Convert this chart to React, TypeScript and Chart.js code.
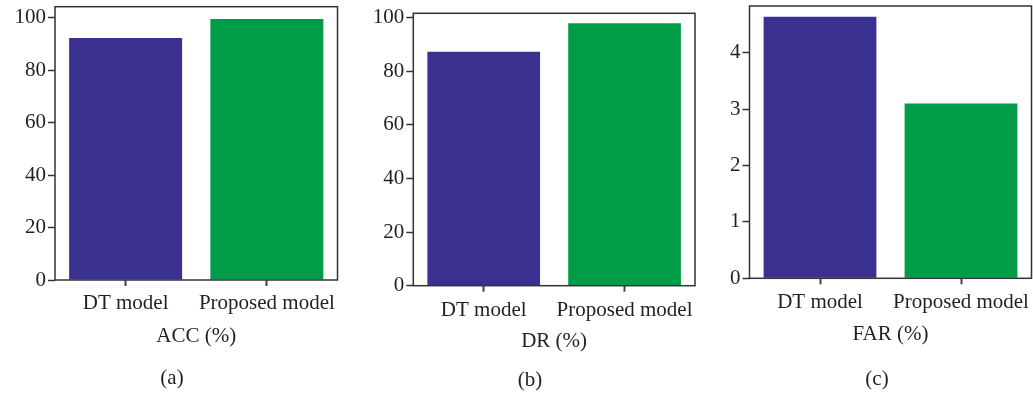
import React, { useEffect, useRef } from "react";
import { Chart, registerables } from "chart.js";

Chart.register(...registerables);

// ---- data ----
const categories = ["DT model", "Proposed model"];
const accValues = [92.4, 99.6];
const drValues = [87.3, 97.9];
const farValues = [4.64, 3.1];
const accTicks = [0, 20, 40, 60, 80, 100];
const drTicks = [0, 20, 40, 60, 80, 100];
const farTicks = [0, 1, 2, 3, 4];
const barColors = ["#3a308f", "#009c48"];

const FONT = "'Liberation Serif', 'Times New Roman', serif";
const FONT_SIZE = 21;
const LH = FONT_SIZE * 1.2;
const TEXT = "#231f20";
const H = 395;

type PanelProps = {
  values: number[];
  ticks: number[];
  yMax: number;
  axisTitle: string;
  subLabel: string;
  canvasLeft: number;
  canvasWidth: number;
  padLeft: number;
  padRight: number;
  padTop: number;
  yAxisWidth: number;
  chartBottom: number;
  tickLabelY: number;
  xTitleY: number;
  subY: number;
};

const framePlugin = {
  id: "frame",
  afterDatasetsDraw(chart: any) {
    const { ctx, chartArea } = chart;
    ctx.save();
    ctx.strokeStyle = "#333333";
    ctx.lineWidth = 1.5;
    ctx.strokeRect(
      chartArea.left,
      chartArea.top,
      chartArea.right - chartArea.left,
      chartArea.bottom - chartArea.top
    );
    ctx.restore();
  },
};

function Panel(p: PanelProps) {
  const ref = useRef<HTMLCanvasElement>(null);
  useEffect(() => {
    if (!ref.current) return;
    const titleTop = p.subY - LH / 2;
    const titleBottomPad = H - p.subY - LH / 2;
    const axisH = titleTop - p.chartBottom;
    const tickLen = 6;
    const tickPad = p.tickLabelY - p.chartBottom - tickLen - LH / 2;
    const xTitlePb = titleTop - LH / 2 - p.xTitleY;
    const chart = new Chart(ref.current, {
      type: "bar",
      data: {
        labels: categories,
        datasets: [
          {
            data: p.values,
            backgroundColor: barColors,
            borderWidth: 0,
            categoryPercentage: 1,
            barPercentage: 0.8,
          },
        ],
      },
      options: {
        animation: false,
        responsive: false,
        devicePixelRatio: 1,
        layout: {
          padding: { left: p.padLeft, right: p.padRight, top: p.padTop, bottom: 0 },
        },
        plugins: {
          legend: { display: false },
          tooltip: { enabled: false },
          title: {
            display: true,
            position: "bottom",
            text: p.subLabel,
            color: TEXT,
            font: { family: FONT, size: FONT_SIZE, weight: "normal", lineHeight: 1.2 },
            padding: { top: 0, bottom: titleBottomPad },
          },
        },
        scales: {
          x: {
            offset: true,
            border: { display: false },
            grid: {
              display: true,
              offset: false,
              drawOnChartArea: false,
              drawTicks: true,
              tickLength: tickLen,
              tickWidth: 2,
              tickColor: "#444444",
            },
            ticks: {
              color: TEXT,
              font: { family: FONT, size: FONT_SIZE, lineHeight: 1.2 },
              padding: tickPad,
              maxRotation: 0,
              autoSkip: false,
            },
            title: {
              display: true,
              text: p.axisTitle,
              color: TEXT,
              font: { family: FONT, size: FONT_SIZE, lineHeight: 1.2 },
              padding: { top: 0, bottom: xTitlePb },
            },
            afterFit: (axis: any) => {
              axis.height = axisH;
              axis.paddingLeft = 0;
              axis.paddingRight = 0;
            },
          },
          y: {
            min: 0,
            max: p.yMax,
            border: { display: false },
            grid: {
              display: true,
              drawOnChartArea: false,
              drawTicks: true,
              tickLength: 7,
              tickWidth: 1.5,
              tickColor: "#333333",
            },
            ticks: {
              color: TEXT,
              font: { family: FONT, size: FONT_SIZE, lineHeight: 1.2 },
              padding: 2,
            },
            afterBuildTicks: (axis: any) => {
              axis.ticks = p.ticks.map((v) => ({ value: v }));
            },
            afterFit: (axis: any) => {
              axis.width = p.yAxisWidth;
              axis.paddingTop = 0;
              axis.paddingBottom = 0;
            },
          },
        },
      },
      plugins: [framePlugin],
    });
    return () => chart.destroy();
  }, []);
  return (
    <canvas
      ref={ref}
      width={p.canvasWidth}
      height={H}
      style={{
        position: "absolute",
        left: p.canvasLeft,
        top: 0,
        width: p.canvasWidth,
        height: H,
      }}
    />
  );
}

export default function App() {
  return (
    <div
      style={{
        position: "absolute",
        left: 0,
        top: 0,
        width: 1033,
        height: H,
        background: "#ffffff",
        overflow: "hidden",
      }}
    >
      <Panel
        values={accValues}
        ticks={accTicks}
        yMax={104.3}
        axisTitle="ACC (%)"
        subLabel="(a)"
        canvasLeft={0}
        canvasWidth={340}
        padLeft={6.5}
        padRight={2.5}
        padTop={6.7}
        yAxisWidth={48.5}
        chartBottom={280}
        tickLabelY={303}
        xTitleY={336}
        subY={378}
      />
      <Panel
        values={drValues}
        ticks={drTicks}
        yMax={101.6}
        axisTitle="DR (%)"
        subLabel="(b)"
        canvasLeft={345}
        canvasWidth={352}
        padLeft={20}
        padRight={2}
        padTop={13.3}
        yAxisWidth={48.3}
        chartBottom={285.7}
        tickLabelY={310}
        xTitleY={341}
        subY={380}
      />
      <Panel
        values={farValues}
        ticks={farTicks}
        yMax={4.83}
        axisTitle="FAR (%)"
        subLabel="(c)"
        canvasLeft={697}
        canvasWidth={336}
        padLeft={25.5}
        padRight={1.5}
        padTop={6}
        yAxisWidth={27}
        chartBottom={278.3}
        tickLabelY={302.5}
        xTitleY={334}
        subY={379}
      />
    </div>
  );
}
